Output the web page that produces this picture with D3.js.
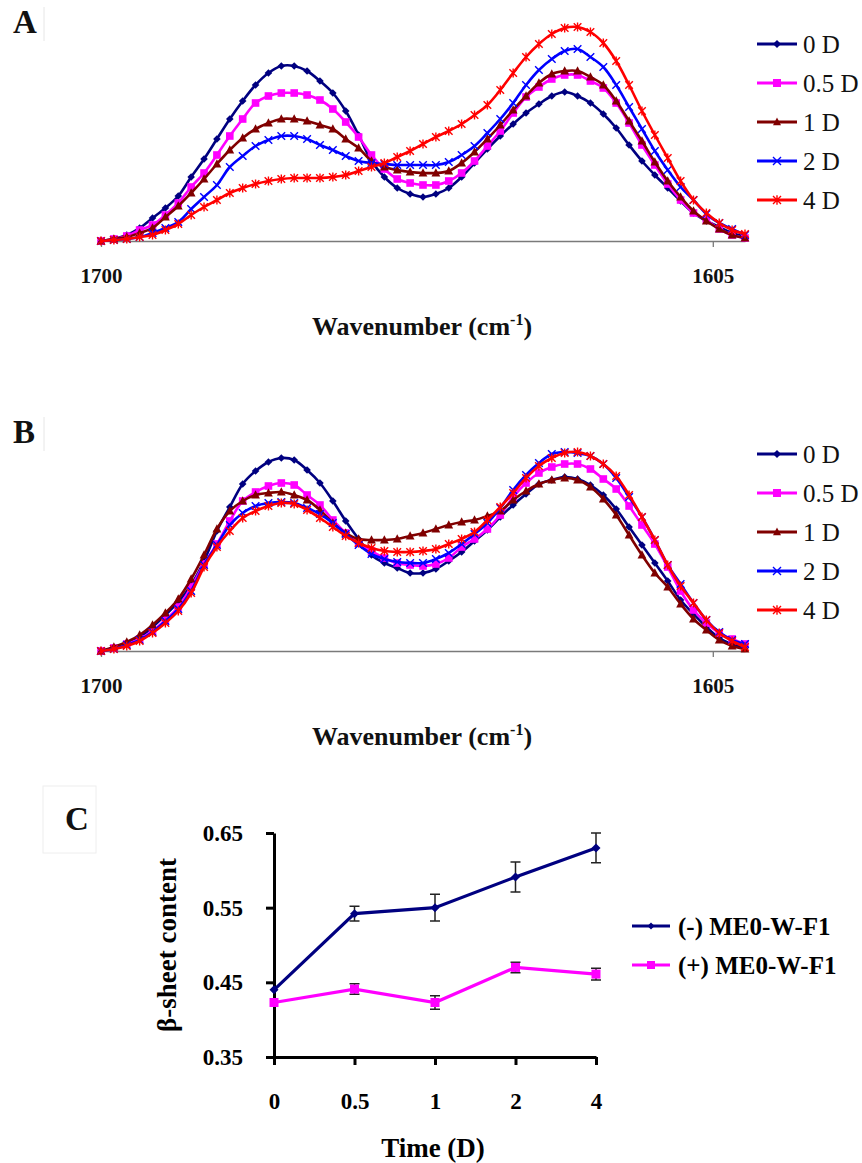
<!DOCTYPE html>
<html>
<head>
<meta charset="utf-8">
<script src="https://cdn.jsdelivr.net/npm/d3@7"></script>
<style>
  body { margin: 0; background: #fff; }
  svg { display: block; }
  text { font-family: "Liberation Serif", "DejaVu Serif", serif; }
</style>
</head>
<body>
<svg id="chart" width="862" height="1163"></svg>
<script>
// wavenumber grid (cm-1), shared by panels A and B
const wavenumbers = [1700,1698,1696,1694,1692,1690,1688,1686,1684,1682,1680,1678,1676,1674,1672,1670,1668,1666,1664,1662,
  1660,1658,1656,1654,1652,1650,1648,1646,1644,1642,1640,1638,1636,1634,1632,1630,1628,1626,1624,1622,
  1620,1618,1616,1614,1612,1610,1608,1606,1604,1602,1600];
const seriesNames = ["0 D", "0.5 D", "1 D", "2 D", "4 D"];

// panel A spectra (relative absorbance)
const a0D  = [0.00,0.01,0.03,0.065,0.115,0.165,0.225,0.32,0.41,0.51,0.61,0.70,0.78,0.84,0.875,0.875,0.85,0.80,0.74,0.65,0.53,0.40,0.32,0.265,0.235,0.22,0.235,0.265,0.32,0.39,0.46,0.525,0.585,0.64,0.685,0.725,0.745,0.725,0.69,0.635,0.565,0.48,0.40,0.33,0.265,0.20,0.14,0.10,0.07,0.04,0.02];
const a05D = [0.00,0.01,0.025,0.055,0.08,0.13,0.19,0.27,0.34,0.43,0.525,0.61,0.69,0.725,0.74,0.74,0.73,0.705,0.66,0.595,0.52,0.43,0.36,0.31,0.29,0.28,0.28,0.30,0.34,0.40,0.475,0.55,0.64,0.72,0.77,0.81,0.83,0.83,0.80,0.765,0.69,0.59,0.48,0.38,0.285,0.205,0.14,0.105,0.06,0.03,0.015];
const a1D  = [0.00,0.01,0.02,0.04,0.065,0.12,0.175,0.24,0.31,0.385,0.455,0.515,0.56,0.59,0.61,0.61,0.60,0.58,0.56,0.51,0.465,0.40,0.37,0.355,0.345,0.34,0.34,0.35,0.39,0.445,0.51,0.58,0.655,0.725,0.79,0.835,0.85,0.85,0.82,0.78,0.70,0.60,0.50,0.395,0.30,0.22,0.15,0.10,0.06,0.03,0.015];
const a2D  = [0.00,0.005,0.01,0.02,0.04,0.065,0.095,0.16,0.22,0.28,0.37,0.425,0.475,0.505,0.525,0.525,0.51,0.48,0.455,0.425,0.40,0.39,0.385,0.38,0.38,0.38,0.38,0.395,0.43,0.475,0.54,0.61,0.69,0.78,0.855,0.91,0.95,0.96,0.92,0.87,0.78,0.67,0.56,0.45,0.355,0.27,0.205,0.135,0.09,0.06,0.03];
const a4D  = [0.00,0.005,0.01,0.02,0.03,0.055,0.085,0.13,0.17,0.205,0.24,0.265,0.285,0.30,0.31,0.315,0.315,0.315,0.32,0.33,0.35,0.37,0.39,0.42,0.45,0.485,0.52,0.55,0.585,0.63,0.68,0.755,0.84,0.92,0.985,1.035,1.065,1.07,1.045,0.99,0.90,0.78,0.65,0.53,0.415,0.30,0.205,0.14,0.09,0.055,0.035];

// panel B spectra
const b0D  = [0.00,0.015,0.04,0.07,0.12,0.18,0.245,0.33,0.45,0.60,0.72,0.835,0.90,0.945,0.965,0.955,0.905,0.84,0.75,0.65,0.56,0.48,0.44,0.415,0.39,0.39,0.41,0.45,0.495,0.55,0.605,0.67,0.73,0.785,0.835,0.855,0.87,0.86,0.83,0.78,0.71,0.62,0.53,0.44,0.35,0.255,0.185,0.12,0.065,0.035,0.015];
const b05D = [0.00,0.015,0.035,0.06,0.10,0.155,0.22,0.32,0.435,0.535,0.65,0.75,0.795,0.825,0.84,0.83,0.78,0.73,0.655,0.59,0.54,0.50,0.465,0.44,0.43,0.425,0.435,0.465,0.52,0.56,0.61,0.68,0.77,0.84,0.89,0.92,0.935,0.935,0.91,0.86,0.81,0.725,0.63,0.535,0.42,0.30,0.205,0.14,0.09,0.06,0.035];
const b1D  = [0.00,0.02,0.045,0.08,0.13,0.19,0.26,0.36,0.48,0.61,0.70,0.75,0.78,0.79,0.795,0.78,0.755,0.705,0.64,0.59,0.56,0.555,0.555,0.56,0.575,0.59,0.61,0.63,0.645,0.655,0.675,0.70,0.755,0.80,0.835,0.855,0.865,0.855,0.82,0.76,0.68,0.58,0.48,0.39,0.32,0.235,0.16,0.105,0.055,0.025,0.01];
const b2D  = [0.00,0.01,0.03,0.055,0.095,0.15,0.21,0.30,0.43,0.53,0.63,0.69,0.725,0.74,0.745,0.74,0.715,0.685,0.64,0.585,0.53,0.485,0.46,0.445,0.44,0.44,0.46,0.49,0.535,0.585,0.64,0.715,0.805,0.88,0.94,0.985,0.995,0.99,0.975,0.935,0.865,0.77,0.67,0.555,0.43,0.335,0.24,0.155,0.095,0.055,0.035];
const b4D  = [0.00,0.01,0.025,0.05,0.09,0.14,0.20,0.29,0.42,0.52,0.60,0.665,0.70,0.725,0.74,0.735,0.705,0.665,0.62,0.575,0.54,0.515,0.50,0.495,0.495,0.50,0.51,0.535,0.56,0.595,0.655,0.72,0.79,0.865,0.925,0.965,0.99,0.995,0.975,0.935,0.875,0.78,0.67,0.555,0.43,0.325,0.24,0.155,0.09,0.05,0.02];

// panel C: beta-sheet content vs time
const days = ["0", "0.5", "1", "2", "4"];
const minusME = [0.44, 0.542, 0.55, 0.591, 0.63];
const minusErr = [0, 0.01, 0.018, 0.02, 0.02];
const plusME = [0.423, 0.441, 0.423, 0.47, 0.461];
const plusErr = [0, 0.007, 0.009, 0.007, 0.008];
const legendC = ["(-) ME0-W-F1", "(+) ME0-W-F1"];
const yTicksC = [0.35, 0.45, 0.55, 0.65];

const colors = ["#000080", "#ff00ff", "#800000", "#0000ff", "#ff0000"];
const shapes = ["diamond", "square", "triangle", "x", "asterisk"];
const serif = '"Liberation Serif", "DejaVu Serif", serif';

const svg = d3.select("#chart");

// draws one marker of given shape at (0,0) inside g
function marker(g, shape, color, s) {
  if (shape === "diamond") {
    g.append("path").attr("d", `M0,${-s}L${s},0L0,${s}L${-s},0Z`).attr("fill", color);
  } else if (shape === "square") {
    g.append("rect").attr("x", -s).attr("y", -s).attr("width", 2 * s).attr("height", 2 * s).attr("fill", color);
  } else if (shape === "triangle") {
    g.append("path").attr("d", `M0,${-s * 1.1}L${s},${s * 0.8}L${-s},${s * 0.8}Z`).attr("fill", color);
  } else if (shape === "x") {
    g.append("path").attr("d", `M${-s},${-s}L${s},${s}M${-s},${s}L${s},${-s}`)
      .attr("stroke", color).attr("stroke-width", 1.4).attr("fill", "none");
  } else {
    g.append("path").attr("d", `M${-s},${-s}L${s},${s}M${-s},${s}L${s},${-s}M0,${-s * 1.2}L0,${s * 1.2}`)
      .attr("stroke", color).attr("stroke-width", 1.4).attr("fill", "none");
  }
}

const x = d3.scaleLinear().domain([1700, 1600]).range([101, 745]);

function spectrumPanel(baseline, seriesList, label, labelY) {
  const y = d3.scaleLinear().domain([0, 1]).range([baseline, baseline - 200]);
  const g = svg.append("g");

  // axis
  const axis = d3.axisBottom(x).tickValues([1700, 1605]).tickSize(6).tickSizeOuter(0)
    .tickPadding(21).tickFormat(d3.format("d"));
  const ax = g.append("g").attr("transform", `translate(0,${baseline})`).call(axis);
  ax.attr("font-family", serif);
  ax.select(".domain").attr("stroke", "#7a7a7a").attr("stroke-width", 1.3);
  ax.selectAll(".tick line").attr("stroke", "#7a7a7a").attr("stroke-width", 1.3);
  ax.selectAll(".tick text").attr("font-size", 21).attr("font-weight", "bold")
    .attr("fill", "#111").style("font-family", serif);

  const title = g.append("text").attr("x", 422).attr("y", baseline + 94)
    .attr("text-anchor", "middle").attr("font-size", 26).attr("font-weight", "bold").attr("fill", "#111");
  title.append("tspan").text("Wavenumber (cm");
  title.append("tspan").attr("dy", -10).attr("font-size", 16).text("-1");
  title.append("tspan").attr("dy", 10).text(")");

  const line = d3.line().x((d, i) => x(wavenumbers[i])).y(d => y(d)).curve(d3.curveCatmullRom);

  seriesList.forEach((vals, k) => {
    g.append("path").datum(vals).attr("d", line).attr("fill", "none")
      .attr("stroke", colors[k]).attr("stroke-width", 2.6);
    g.append("g").selectAll("g").data(vals).join("g")
      .attr("transform", (d, i) => `translate(${x(wavenumbers[i])},${y(d)})`)
      .each(function () { marker(d3.select(this), shapes[k], colors[k], k === 2 ? 4.4 : 3.8); });
  });

  // legend
  const lg = g.append("g");
  seriesNames.forEach((name, k) => {
    const ly = baseline - 197 + k * 39;
    lg.append("line").attr("x1", 757).attr("x2", 797).attr("y1", ly).attr("y2", ly)
      .attr("stroke", colors[k]).attr("stroke-width", 3);
    marker(lg.append("g").attr("transform", `translate(777,${ly})`), shapes[k], colors[k], 4);
    lg.append("text").attr("x", 803).attr("y", ly + 9).attr("font-size", 25).attr("fill", "#111").text(name);
  });

  g.append("line").attr("x1", 44).attr("x2", 44).attr("y1", labelY - 26).attr("y2", labelY + 8)
    .attr("stroke", "#e6e6e6").attr("stroke-width", 1);
  g.append("text").attr("x", 13).attr("y", labelY).attr("font-size", 33).attr("font-weight", "bold")
    .attr("fill", "#111").text(label);
}

spectrumPanel(241, [a0D, a05D, a1D, a2D, a4D], "A", 33);
spectrumPanel(651, [b0D, b05D, b1D, b2D, b4D], "B", 443);

// ---- panel C ----
const xC = d3.scalePoint().domain(days).range([274, 596]);
const yC = d3.scaleLinear().domain([0.35, 0.65]).range([1057, 833]);
const gc = svg.append("g");

gc.append("rect").attr("x", 43).attr("y", 786).attr("width", 53).attr("height", 67)
  .attr("fill", "none").attr("stroke", "#eeeeee");
gc.append("text").attr("x", 65).attr("y", 830).attr("font-size", 33).attr("font-weight", "bold")
  .attr("fill", "#111").text("C");

const axY = gc.append("g").attr("transform", "translate(274,0)")
  .call(d3.axisLeft(yC).tickValues(yTicksC).tickSize(8).tickSizeOuter(0).tickPadding(23).tickFormat(d3.format(".2f")));
const axX = gc.append("g").attr("transform", "translate(0,1057)")
  .call(d3.axisBottom(xC).tickSize(8).tickSizeOuter(0).tickPadding(28));
[axY, axX].forEach(a => {
  a.attr("font-family", serif);
  a.select(".domain").attr("stroke", "#000").attr("stroke-width", 3);
  a.selectAll(".tick line").attr("stroke", "#000").attr("stroke-width", 3);
  a.selectAll(".tick text").attr("font-size", 23).attr("font-weight", "bold").attr("fill", "#000")
    .style("font-family", serif);
});

gc.append("text").attr("transform", "translate(176,945) rotate(-90)").attr("text-anchor", "middle")
  .attr("font-size", 27).attr("font-weight", "bold").attr("fill", "#000").text("β-sheet content");
gc.append("text").attr("x", 433).attr("y", 1157).attr("text-anchor", "middle")
  .attr("font-size", 27).attr("font-weight", "bold").attr("fill", "#000").text("Time (D)");

const seriesC = [
  { vals: minusME, err: minusErr, color: colors[0], shape: "diamond", size: 4.5 },
  { vals: plusME, err: plusErr, color: colors[1], shape: "square", size: 4.5 }
];
const lineC = d3.line().x((d, i) => xC(days[i])).y(d => yC(d));

seriesC.forEach((s, k) => {
  gc.append("path").datum(s.vals).attr("d", lineC).attr("fill", "none")
    .attr("stroke", s.color).attr("stroke-width", 3.2);
  s.vals.forEach((v, i) => {
    const cx = xC(days[i]);
    if (s.err[i] > 0) {
      const y1 = yC(v + s.err[i]), y2 = yC(v - s.err[i]);
      gc.append("path").attr("d", `M${cx},${y1}V${y2}M${cx - 5},${y1}H${cx + 5}M${cx - 5},${y2}H${cx + 5}`)
        .attr("stroke", "#222").attr("stroke-width", 1.5).attr("fill", "none");
    }
    marker(gc.append("g").attr("transform", `translate(${cx},${yC(v)})`), s.shape, s.color, s.size);
  });
  const ly = 926 + k * 39;
  gc.append("line").attr("x1", 632).attr("x2", 670).attr("y1", ly).attr("y2", ly)
    .attr("stroke", s.color).attr("stroke-width", 3.2);
  marker(gc.append("g").attr("transform", `translate(651,${ly})`), s.shape, s.color, k === 0 ? 3.5 : 4);
  gc.append("text").attr("x", 678).attr("y", ly + 9).attr("font-size", 25).attr("font-weight", "bold")
    .attr("fill", "#000").text(legendC[k]);
});
</script>
</body>
</html>
